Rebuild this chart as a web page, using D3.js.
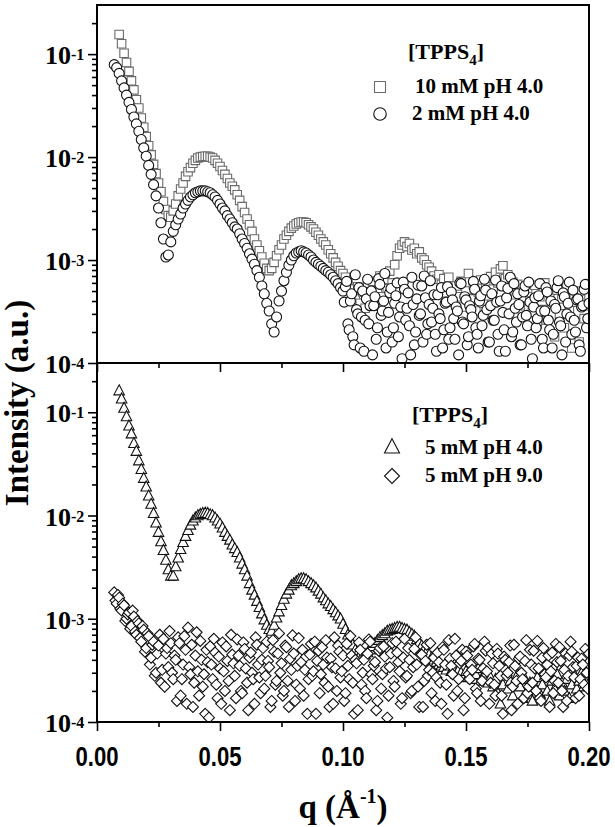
<!DOCTYPE html>
<html><head><meta charset="utf-8">
<script src="https://cdn.jsdelivr.net/npm/d3@7"></script>
<style>body{margin:0;background:#fff}</style>
</head><body>
<svg id="c" width="615" height="827"></svg>
<script>
// shared q grid (Å^-1)
const q = [
.007,.008,.009,.010,.011,.012,.013,.014,.015,.016,
.017,.018,.019,.020,.021,.022,.023,.024,.025,.026,
.027,.028,.029,.030,.031,.032,.033,.034,.035,.036,
.037,.038,.039,.040,.041,.042,.043,.044,.045,.046,
.047,.048,.049,.050,.051,.052,.053,.054,.055,.056,
.057,.058,.059,.060,.061,.062,.063,.064,.065,.066,
.067,.068,.069,.070,.071,.072,.073,.074,.075,.076,
.077,.078,.079,.080,.081,.082,.083,.084,.085,.086,
.087,.088,.089,.090,.091,.092,.093,.094,.095,.096,
.097,.098,.099,.100,.101,.102,.103,.104,.105,.106,
.107,.108,.109,.110,.111,.112,.113,.114,.115,.116,
.117,.118,.119,.120,.121,.122,.123,.124,.125,.126,
.127,.128,.129,.130,.131,.132,.133,.134,.135,.136,
.137,.138,.139,.140,.141,.142,.143,.144,.145,.146,
.147,.148,.149,.150,.151,.152,.153,.154,.155,.156,
.157,.158,.159,.160,.161,.162,.163,.164,.165,.166,
.167,.168,.169,.170,.171,.172,.173,.174,.175,.176,
.177,.178,.179,.180,.181,.182,.183,.184,.185,.186,
.187,.188,.189,.190,.191,.192,.193,.194,.195,.196,
.197,.198,.199,.200];

// interleaved half-step grid (used by the dense pH 9.0 scan)
const qHalf = [
.0075,.0085,.0095,.0105,.0115,.0125,.0135,.0145,.0155,.0165,
.0175,.0185,.0195,.0205,.0215,.0225,.0235,.0245,.0255,.0265,
.0275,.0285,.0295,.0305,.0315,.0325,.0335,.0345,.0355,.0365,
.0375,.0385,.0395,.0405,.0415,.0425,.0435,.0445,.0455,.0465,
.0475,.0485,.0495,.0505,.0515,.0525,.0535,.0545,.0555,.0565,
.0575,.0585,.0595,.0605,.0615,.0625,.0635,.0645,.0655,.0665,
.0675,.0685,.0695,.0705,.0715,.0725,.0735,.0745,.0755,.0765,
.0775,.0785,.0795,.0805,.0815,.0825,.0835,.0845,.0855,.0865,
.0875,.0885,.0895,.0905,.0915,.0925,.0935,.0945,.0955,.0965,
.0975,.0985,.0995,.1005,.1015,.1025,.1035,.1045,.1055,.1065,
.1075,.1085,.1095,.1105,.1115,.1125,.1135,.1145,.1155,.1165,
.1175,.1185,.1195,.1205,.1215,.1225,.1235,.1245,.1255,.1265,
.1275,.1285,.1295,.1305,.1315,.1325,.1335,.1345,.1355,.1365,
.1375,.1385,.1395,.1405,.1415,.1425,.1435,.1445,.1455,.1465,
.1475,.1485,.1495,.1505,.1515,.1525,.1535,.1545,.1555,.1565,
.1575,.1585,.1595,.1605,.1615,.1625,.1635,.1645,.1655,.1665,
.1675,.1685,.1695,.1705,.1715,.1725,.1735,.1745,.1755,.1765,
.1775,.1785,.1795,.1805,.1815,.1825,.1835,.1845,.1855,.1865,
.1875,.1885,.1895,.1905,.1915,.1925,.1935,.1945,.1955,.1965,
.1975,.1985,.1995];

// high-q half-step grid (extra 2 mM points)
const qHigh = [
.1005,.1015,.1025,.1035,.1045,.1055,.1065,.1075,.1085,.1095,
.1105,.1115,.1125,.1135,.1145,.1155,.1165,.1175,.1185,.1195,
.1205,.1215,.1225,.1235,.1245,.1255,.1265,.1275,.1285,.1295,
.1305,.1315,.1325,.1335,.1345,.1355,.1365,.1375,.1385,.1395,
.1405,.1415,.1425,.1435,.1445,.1455,.1465,.1475,.1485,.1495,
.1505,.1515,.1525,.1535,.1545,.1555,.1565,.1575,.1585,.1595,
.1605,.1615,.1625,.1635,.1645,.1655,.1665,.1675,.1685,.1695,
.1705,.1715,.1725,.1735,.1745,.1755,.1765,.1775,.1785,.1795,
.1805,.1815,.1825,.1835,.1845,.1855,.1865,.1875,.1885,.1895,
.1905,.1915,.1925,.1935,.1945,.1955,.1965,.1975,.1985,.1995];

// top panel: 10 mM pH 4.0 (squares), on q
const mM10_pH4 = [
null,null,.155,.126,.102,.083,.068,.055,.045,.036,
.030,.024,.0195,.0158,.0129,.0105,.0085,.0069,.0056,.0046,
.0037,.0031,.0027,.0026,.0030,.0035,.0042,.0049,.0056,.0065,
.0072,.0079,.0087,.0093,.0098,.0100,.0101,.0102,.0102,.0100,
.0098,.0093,.0087,.0081,.0074,.0068,.0062,.0056,.0052,.0048,
.0043,.0038,.0033,.0029,.0025,.0022,.0019,.0016,.0014,.00123,
.00107,.00093,.00083,.00079,.00083,.00095,.0011,.00126,.0014,.0016,
.00174,.0019,.00204,.00214,.00224,.0023,.00234,.00234,.0023,.0022,
.0021,.0020,.00186,.00174,.0016,.0015,.0014,.00126,.00115,.00105,
.00095,.00087,.00079,.00074,6.8e-4,6.0e-4,5.2e-4,4.7e-4,4.2e-4,5.5e-4,
3.8e-4,4.9e-4,3.4e-4,5.8e-4,4.1e-4,6.2e-4,3.6e-4,5.0e-4,7.0e-4,4.4e-4,
6.5e-4,5.3e-4,7.8e-4,6.0e-4,9.0e-4,1.1e-3,1.3e-3,1.4e-3,1.5e-3,1.35e-3,
1.45e-3,1.25e-3,1.3e-3,1.15e-3,1.2e-3,1.05e-3,1.0e-3,9.0e-4,8.5e-4,7.8e-4,
7.0e-4,6.5e-4,7.2e-4,5.8e-4,6.6e-4,4.8e-4,6.8e-4,5.2e-4,3.9e-4,5.6e-4,
4.4e-4,6.2e-4,3.5e-4,5.0e-4,7.4e-4,4.2e-4,5.8e-4,3.2e-4,4.9e-4,6.4e-4,
3.8e-4,5.5e-4,4.5e-4,6.9e-4,5.2e-4,7.6e-4,6.0e-4,8.2e-4,8.8e-4,6.6e-4,
7.2e-4,5.4e-4,6.1e-4,4.6e-4,5.8e-4,3.6e-4,4.9e-4,2.8e-4,5.3e-4,4.0e-4,
3.1e-4,5.7e-4,2.4e-4,4.4e-4,3.3e-4,6.0e-4,2.6e-4,4.8e-4,3.7e-4,1.8e-4,
5.1e-4,3.0e-4,4.2e-4,2.2e-4,5.6e-4,3.4e-4,1.4e-4,4.6e-4,3.9e-4,1.6e-4,
5.0e-4,2.7e-4,3.6e-4,4.4e-4];

// top panel: 2 mM pH 4.0 (circles), on q
const mM2_pH4 = [
.079,.074,.065,.055,.047,.040,.034,.029,.0245,.021,
.0178,.0148,.0123,.0102,.0083,.0068,.0054,.0042,.0032,.0023,
.0016,.00107,.00112,.0015,.0019,.0022,.0025,.0028,.0032,.0035,
.0038,.0041,.0043,.0045,.0046,.0047,.0047,.0047,.0046,.0045,
.0043,.0041,.0038,.0035,.0032,.0030,.0027,.0025,.0023,.0021,
.0020,.0018,.0016,.00145,.0013,.00115,.00102,.00091,.00079,.00068,
.00056,.00047,.00038,.00032,.00024,.0002,.00028,.0004,.0005,.00063,
.00076,.00089,.0010,.0011,.00117,.0012,.00123,.0012,.00117,.00112,
.00107,.0010,.00095,.00091,.00087,.00083,.00079,.00076,.00072,.00068,
.00063,.00059,.00054,.0005,5.5e-4,2.4e-4,4.0e-4,1.8e-4,7.2e-4,3.0e-4,
1.4e-4,5.0e-4,2.6e-4,6.5e-4,3.6e-4,1.2e-4,4.4e-4,2.2e-4,5.8e-4,3.2e-4,
7.4e-4,2.0e-4,4.8e-4,1.6e-4,3.8e-4,6.0e-4,2.8e-4,1.1e-4,5.2e-4,3.4e-4,
2.3e-4,6.8e-4,1.5e-4,4.2e-4,2.9e-4,5.6e-4,7.0e-4,1.9e-4,3.7e-4,2.5e-4,
4.6e-4,1.3e-4,3.0e-4,5.4e-4,2.1e-4,3.9e-4,1.7e-4,4.9e-4,2.7e-4,3.5e-4,
1.2e-4,5.9e-4,2.4e-4,4.1e-4,1.8e-4,3.3e-4,6.2e-4,2.2e-4,1.4e-4,4.5e-4,
2.9e-4,5.1e-4,1.6e-4,3.6e-4,2.6e-4,6.4e-4,1.9e-4,4.0e-4,3.1e-4,1.3e-4,
5.3e-4,6.8e-4,2.0e-4,3.4e-4,4.7e-4,1.5e-4,2.8e-4,5.6e-4,2.3e-4,3.9e-4,
1.1e-4,4.3e-4,2.7e-4,5.9e-4,1.7e-4,3.2e-4,4.9e-4,2.1e-4,1.4e-4,3.7e-4,
5.4e-4,2.5e-4,1.2e-4,4.4e-4,3.0e-4,6.1e-4,1.9e-4,2.6e-4,4.1e-4,1.5e-4,
3.5e-4,5.2e-4,2.2e-4,3.8e-4];

// top panel: 2 mM pH 4.0 extra high-q points, on qHigh
const mM2_pH4_high = [
3.9e-4,6.2e-4,2.1e-4,4.7e-4,1.5e-4,3.3e-4,5.4e-4,2.8e-4,1.3e-4,4.2e-4,
2.4e-4,5.0e-4,3.6e-4,1.7e-4,6.6e-4,2.9e-4,4.0e-4,1.4e-4,3.1e-4,5.3e-4,
2.2e-4,4.5e-4,1.8e-4,3.5e-4,6.1e-4,2.6e-4,4.8e-4,1.2e-4,3.7e-4,2.0e-4,
5.7e-4,3.0e-4,1.6e-4,4.3e-4,2.4e-4,6.3e-4,3.4e-4,1.9e-4,4.6e-4,2.7e-4,
1.4e-4,3.8e-4,5.5e-4,2.2e-4,4.1e-4,1.7e-4,3.2e-4,6.0e-4,2.5e-4,4.4e-4,
1.5e-4,3.6e-4,2.8e-4,5.2e-4,1.9e-4,4.0e-4,2.3e-4,6.5e-4,3.3e-4,1.6e-4,
4.7e-4,2.6e-4,3.9e-4,1.3e-4,5.6e-4,2.1e-4,4.3e-4,3.0e-4,1.8e-4,5.9e-4,
2.5e-4,3.7e-4,1.5e-4,4.9e-4,2.9e-4,6.1e-4,1.7e-4,3.5e-4,2.2e-4,4.5e-4,
3.2e-4,1.4e-4,5.4e-4,2.6e-4,4.0e-4,1.9e-4,3.4e-4,6.3e-4,2.3e-4,4.8e-4,
1.6e-4,3.8e-4,2.8e-4,5.1e-4,2.0e-4,4.2e-4,1.3e-4,3.6e-4,5.8e-4,2.7e-4];

// bottom panel: 5 mM pH 4.0 (triangles), on q
const mM5_pH4 = [
null,null,.162,.135,.110,.091,.074,.062,.050,.042,
.034,.028,.023,.019,.0155,.0129,.0105,.0085,.0069,.0056,
.0046,.0037,.0030,.0026,.0026,.0032,.0039,.0047,.0055,.0063,
.0072,.0081,.0089,.0095,.0100,.0103,.0105,.0106,.0105,.0102,
.0100,.0095,.0089,.0083,.0076,.0069,.0063,.0058,.0052,.0048,
.0044,.0039,.0034,.0030,.0026,.0022,.0019,.0017,.00148,.00129,
.00112,.00098,.00087,.00079,.00076,.00087,.00102,.00117,.00135,.00155,
.00174,.0019,.0021,.0022,.0023,.0024,.00245,.00245,.0024,.0023,
.0022,.0021,.0020,.00186,.00174,.0016,.0015,.0014,.00132,.00123,
.00115,.00107,.0010,.00089,.00079,.0007,.00063,.00056,.0005,.00047,
.00045,.00044,.00045,.00047,.0005,.00054,.00058,.00062,.00066,.00069,
.00072,.00076,.00078,.00079,.00081,.00083,.00083,.00081,.00079,.00078,
.00074,.00071,.00068,.00063,.00059,.00055,.00051,.00048,.00045,.00042,
.0004,.00038,.00036,.00035,3.4e-4,3.2e-4,3.5e-4,3.1e-4,3.3e-4,2.9e-4,
3.2e-4,3.0e-4,2.7e-4,3.1e-4,2.8e-4,3.2e-4,2.6e-4,2.9e-4,3.3e-4,2.5e-4,
2.8e-4,3.0e-4,2.4e-4,2.7e-4,2.2e-4,2.6e-4,1.9e-4,1.5e-4,2.3e-4,2.8e-4,
2.1e-4,2.5e-4,1.8e-4,2.4e-4,2.9e-4,2.2e-4,1.7e-4,2.6e-4,2.0e-4,2.4e-4,
1.6e-4,2.2e-4,2.7e-4,1.9e-4,2.3e-4,2.8e-4,2.0e-4,1.6e-4,2.5e-4,2.1e-4,
2.9e-4,1.8e-4,2.4e-4,2.0e-4,2.6e-4,1.7e-4,2.3e-4,2.9e-4,2.1e-4,2.5e-4,
3.0e-4,2.2e-4,2.7e-4,2.4e-4];

// bottom panel: 5 mM pH 9.0 (diamonds), on q
const mM5_pH9 = [
1.8e-3,1.4e-3,1.6e-3,1.2e-3,1.35e-3,1.0e-3,1.15e-3,8.5e-4,1.05e-3,7.0e-4,
9.0e-4,6.0e-4,7.8e-4,5.2e-4,6.8e-4,4.2e-4,6.0e-4,3.0e-4,5.5e-4,2.4e-4,
6.4e-4,4.6e-4,3.4e-4,5.8e-4,2.6e-4,4.0e-4,6.6e-4,1.8e-4,3.6e-4,5.0e-4,
8.2e-4,2.9e-4,1.4e-4,4.4e-4,3.1e-4,6.1e-4,2.2e-4,1.2e-4,3.8e-4,5.4e-4,
2.6e-4,4.7e-4,1.7e-4,3.3e-4,5.9e-4,2.0e-4,3.9e-4,1.3e-4,4.5e-4,2.8e-4,
6.3e-4,3.5e-4,1.9e-4,5.1e-4,2.4e-4,4.2e-4,3.0e-4,1.5e-4,5.6e-4,2.7e-4,
4.0e-4,2.1e-4,6.0e-4,3.4e-4,1.6e-4,4.8e-4,2.5e-4,7.2e-4,3.7e-4,2.0e-4,
5.3e-4,1.4e-4,3.2e-4,4.6e-4,2.3e-4,6.5e-4,3.8e-4,1.8e-4,4.3e-4,2.6e-4,
5.7e-4,3.1e-4,1.2e-4,4.9e-4,2.9e-4,3.6e-4,6.2e-4,2.2e-4,4.1e-4,1.5e-4,
3.3e-4,5.5e-4,2.7e-4,4.4e-4,1.9e-4,3.5e-4,6.8e-4,2.4e-4,4.0e-4,1.3e-4,
5.0e-4,3.0e-4,2.0e-4,4.6e-4,6.0e-4,2.6e-4,3.8e-4,1.6e-4,5.2e-4,2.9e-4,
4.3e-4,1.1e-4,3.4e-4,5.8e-4,2.2e-4,4.7e-4,3.1e-4,1.7e-4,6.4e-4,2.8e-4,
4.0e-4,2.0e-4,5.1e-4,3.6e-4,1.4e-4,4.5e-4,2.5e-4,5.6e-4,3.2e-4,1.9e-4,
4.2e-4,2.7e-4,3.8e-4,1.5e-4,5.0e-4,2.3e-4,6.2e-4,3.5e-4,1.8e-4,4.4e-4,
2.6e-4,3.9e-4,1.3e-4,4.8e-4,2.9e-4,3.6e-4,5.4e-4,2.1e-4,4.1e-4,1.6e-4,
3.3e-4,4.9e-4,5.2e-4,2.4e-4,3.7e-4,1.8e-4,4.6e-4,2.8e-4,1.2e-4,4.0e-4,
3.0e-4,5.5e-4,2.2e-4,3.5e-4,1.5e-4,4.3e-4,2.6e-4,3.9e-4,1.9e-4,5.0e-4,
2.4e-4,3.3e-4,6.1e-4,1.7e-4,4.2e-4,2.9e-4,3.6e-4,1.4e-4,4.7e-4,2.5e-4,
3.8e-4,5.3e-4,2.0e-4,3.2e-4,1.6e-4,4.4e-4,4.8e-4,2.7e-4,3.5e-4,1.8e-4,
4.1e-4,2.3e-4,3.0e-4,4.6e-4];

// bottom panel: 5 mM pH 9.0 interleaved points, on qHalf
const mM5_pH9_half = [
1.5e-3,1.7e-3,1.25e-3,1.4e-3,9.5e-4,1.1e-3,8.0e-4,1.2e-3,7.5e-4,9.5e-4,
6.5e-4,8.5e-4,4.8e-4,7.2e-4,3.6e-4,5.6e-4,2.8e-4,4.6e-4,7.0e-4,3.2e-4,
2.2e-4,5.2e-4,7.6e-4,3.0e-4,4.4e-4,1.6e-4,5.8e-4,2.6e-4,6.8e-4,1.5e-4,
3.4e-4,5.6e-4,2.4e-4,7.4e-4,1.8e-4,4.0e-4,2.9e-4,5.0e-4,1.1e-4,3.6e-4,
6.4e-4,2.3e-4,4.3e-4,1.5e-4,3.1e-4,5.4e-4,2.5e-4,7.0e-4,3.7e-4,1.7e-4,
4.4e-4,2.0e-4,5.9e-4,3.3e-4,1.3e-4,4.7e-4,2.6e-4,6.6e-4,3.6e-4,1.9e-4,
5.2e-4,2.8e-4,3.9e-4,1.4e-4,6.2e-4,2.3e-4,4.6e-4,3.0e-4,1.8e-4,5.5e-4,
2.5e-4,4.1e-4,6.9e-4,1.6e-4,3.5e-4,2.1e-4,5.0e-4,3.2e-4,1.2e-4,4.5e-4,
2.8e-4,6.0e-4,3.9e-4,1.9e-4,5.3e-4,2.4e-4,4.2e-4,1.4e-4,3.4e-4,6.6e-4,
2.0e-4,4.8e-4,3.1e-4,1.6e-4,5.7e-4,2.6e-4,4.4e-4,1.2e-4,3.7e-4,5.9e-4,
2.3e-4,4.0e-4,1.7e-4,6.3e-4,2.9e-4,3.5e-4,1.3e-4,4.9e-4,2.1e-4,5.4e-4,
3.3e-4,1.8e-4,4.6e-4,2.5e-4,6.0e-4,3.8e-4,1.5e-4,4.2e-4,2.7e-4,5.2e-4,
1.9e-4,3.4e-4,6.6e-4,2.2e-4,4.5e-4,1.4e-4,3.9e-4,2.8e-4,5.8e-4,3.0e-4,
1.6e-4,4.7e-4,2.4e-4,5.3e-4,3.6e-4,1.2e-4,4.1e-4,2.9e-4,6.4e-4,2.0e-4,
3.7e-4,5.0e-4,1.7e-4,4.4e-4,2.6e-4,3.2e-4,5.7e-4,1.9e-4,4.0e-4,2.5e-4,
6.0e-4,3.1e-4,1.5e-4,4.6e-4,2.3e-4,5.1e-4,3.5e-4,1.8e-4,4.3e-4,2.8e-4,
3.8e-4,1.3e-4,5.6e-4,2.5e-4,4.1e-4,3.0e-4,1.7e-4,6.2e-4,2.2e-4,3.6e-4,
4.9e-4,2.0e-4,3.3e-4,1.6e-4,5.2e-4,2.7e-4,4.4e-4,3.1e-4,1.9e-4,5.7e-4,
2.4e-4,3.9e-4,1.4e-4,4.6e-4,2.8e-4,6.0e-4,3.4e-4,1.7e-4,4.2e-4,2.6e-4,
3.6e-4,5.1e-4,2.1e-4];

const xTicks = [0, 0.05, 0.10, 0.15, 0.20];
const xTickLabels = ["0.00", "0.05", "0.10", "0.15", "0.20"];
const xMinor = [0.025, 0.075, 0.125, 0.175];
const yMajor = [1e-4, 1e-3, 1e-2, 1e-1];
const yMajorExp = ["-4", "-3", "-2", "-1"];

const svg = d3.select("#c");
const X0 = 97, X1 = 589, TOP = 5, MID = 363, BOT = 722;
const x = d3.scaleLinear().domain([0, 0.2]).range([X0, X1]);
const yTop = d3.scaleLog().domain([1e-4, 0.3]).range([MID, TOP]);
const yBot = d3.scaleLog().domain([1e-4, 0.3]).range([BOT, MID]);

const defs = svg.append("defs");
defs.append("clipPath").attr("id", "clipTop").append("rect")
  .attr("x", X0).attr("y", TOP).attr("width", X1 - X0).attr("height", MID - TOP);
defs.append("clipPath").attr("id", "clipBot").append("rect")
  .attr("x", X0).attr("y", MID).attr("width", X1 - X0).attr("height", BOT - MID);

const SERIF = "'Liberation Serif','Times New Roman',serif";
const SANS = "'Liberation Sans',Arial,sans-serif";

const shapes = {
  square: s => `M${-s/2},${-s/2}h${s}v${s}h${-s}Z`,
  circle: s => `M${s/2},0A${s/2},${s/2} 0 1,1 ${-s/2},0A${s/2},${s/2} 0 1,1 ${s/2},0Z`,
  triangle: s => `M0,${-s*0.55}L${s/2},${s*0.4}L${-s/2},${s*0.4}Z`,
  diamond: s => `M0,${-s/2}L${s/2},0L0,${s/2}L${-s/2},0Z`
};

function toPoints(qs, vals) {
  return qs.map((qq, i) => ({q: qq, v: vals[i]})).filter(d => d.v != null);
}
function plotSeries(pts, yScale, clip, shape, size, stroke) {
  pts.sort((a, b) => a.q - b.q);
  svg.append("g").attr("clip-path", `url(#${clip})`)
    .selectAll("path").data(pts).join("path")
    .attr("transform", d => `translate(${x(d.q)},${yScale(d.v)})`)
    .attr("d", shapes[shape](size))
    .attr("fill", "#fff").attr("stroke", stroke).attr("stroke-width", 1.1);
}

plotSeries(toPoints(q, mM10_pH4), yTop, "clipTop", "square", 8.5, "#6a6a6a");
plotSeries(toPoints(q, mM2_pH4).concat(toPoints(qHigh, mM2_pH4_high)), yTop, "clipTop", "circle", 10, "#111");
plotSeries(toPoints(q, mM5_pH4), yBot, "clipBot", "triangle", 10.5, "#111");
plotSeries(toPoints(q, mM5_pH9).concat(toPoints(qHalf, mM5_pH9_half)), yBot, "clipBot", "diamond", 11, "#111");

// y axes
const yMinor = [];
for (let e = -4; e <= -1; e++) for (let m = 2; m <= 9; m++) {
  const v = m * Math.pow(10, e);
  if (v <= 0.3) yMinor.push(v);
}
function yAxis(scale) {
  const g1 = svg.append("g").attr("transform", `translate(${X0},0)`)
    .call(d3.axisLeft(scale).tickValues(yMajor).tickSize(9).tickFormat(""));
  const g2 = svg.append("g").attr("transform", `translate(${X0},0)`)
    .call(d3.axisLeft(scale).tickValues(yMinor).tickSize(5).tickFormat(""));
  [g1, g2].forEach(g => {
    g.select(".domain").remove();
    g.selectAll("line").attr("stroke", "#000").attr("stroke-width", 1.6);
  });
  yMajor.forEach((v, i) => {
    const t = svg.append("text").attr("x", 45).attr("y", scale(v) + 10)
      .attr("font-family", SERIF).attr("font-weight", "bold").attr("font-size", 26);
    t.append("tspan").text("10");
    t.append("tspan").attr("dy", -4).attr("font-size", 16).text(yMajorExp[i]);
  });
}
yAxis(yTop);
yAxis(yBot);

// x axes
function xAxis(yPos, labels) {
  const g1 = svg.append("g").attr("transform", `translate(0,${yPos})`)
    .call(d3.axisBottom(x).tickValues(xTicks).tickSize(9).tickFormat(""));
  const g2 = svg.append("g").attr("transform", `translate(0,${yPos})`)
    .call(d3.axisBottom(x).tickValues(xMinor).tickSize(5).tickFormat(""));
  [g1, g2].forEach(g => {
    g.select(".domain").remove();
    g.selectAll("line").attr("stroke", "#000").attr("stroke-width", 1.6);
  });
  if (labels) {
    xTicks.forEach((v, i) => {
      svg.append("text").attr("transform", `translate(${x(v)},766) scale(0.82,1)`)
        .attr("text-anchor", "middle")
        .attr("font-family", SANS).attr("font-weight", "bold").attr("font-size", 27)
        .text(xTickLabels[i]);
    });
  }
}
xAxis(MID, false);
xAxis(BOT, true);

// frame
svg.append("rect").attr("x", X0).attr("y", TOP).attr("width", X1 - X0).attr("height", BOT - TOP)
  .attr("fill", "none").attr("stroke", "#000").attr("stroke-width", 2);
svg.append("line").attr("x1", X0).attr("x2", X1).attr("y1", MID).attr("y2", MID)
  .attr("stroke", "#000").attr("stroke-width", 2);

// axis titles
const xt = svg.append("text").attr("x", x(0.1)).attr("y", 818).attr("text-anchor", "middle")
  .attr("font-family", SERIF).attr("font-weight", "bold").attr("font-size", 33);
xt.append("tspan").text("q (Å");
xt.append("tspan").attr("dy", -15).attr("font-size", 20).text("-1");
xt.append("tspan").attr("dy", 15).text(")");

svg.append("text").attr("transform", "translate(28,403) rotate(-90)").attr("text-anchor", "middle")
  .attr("font-family", SERIF).attr("font-weight", "bold").attr("font-size", 33)
  .text("Intensity (a.u.)");

// legends
function legendHeader(xp, yp) {
  const t = svg.append("text").attr("x", xp).attr("y", yp)
    .attr("font-family", SERIF).attr("font-weight", "bold").attr("font-size", 22);
  t.append("tspan").text("[TPPS");
  t.append("tspan").attr("dy", 6).attr("font-size", 15).text("4");
  t.append("tspan").attr("dy", -6).text("]");
}
function legendItem(sx, sy, shape, size, stroke, label, tx, ty) {
  svg.append("path").attr("transform", `translate(${sx},${sy})`).attr("d", shapes[shape](size))
    .attr("fill", "#fff").attr("stroke", stroke).attr("stroke-width", 1.1);
  svg.append("text").attr("x", tx).attr("y", ty)
    .attr("font-family", SERIF).attr("font-weight", "bold").attr("font-size", 21).text(label);
}
legendHeader(408, 59);
legendItem(380, 87, "square", 11, "#6a6a6a", "10 mM pH 4.0", 415, 93);
legendItem(380, 114, "circle", 12.5, "#111", "2 mM pH 4.0", 412, 120);
legendHeader(412, 422);
legendItem(392, 447, "triangle", 15, "#111", "5 mM pH 4.0", 425, 454);
legendItem(392, 476, "diamond", 15, "#111", "5 mM pH 9.0", 425, 482);
</script>
</body></html>
